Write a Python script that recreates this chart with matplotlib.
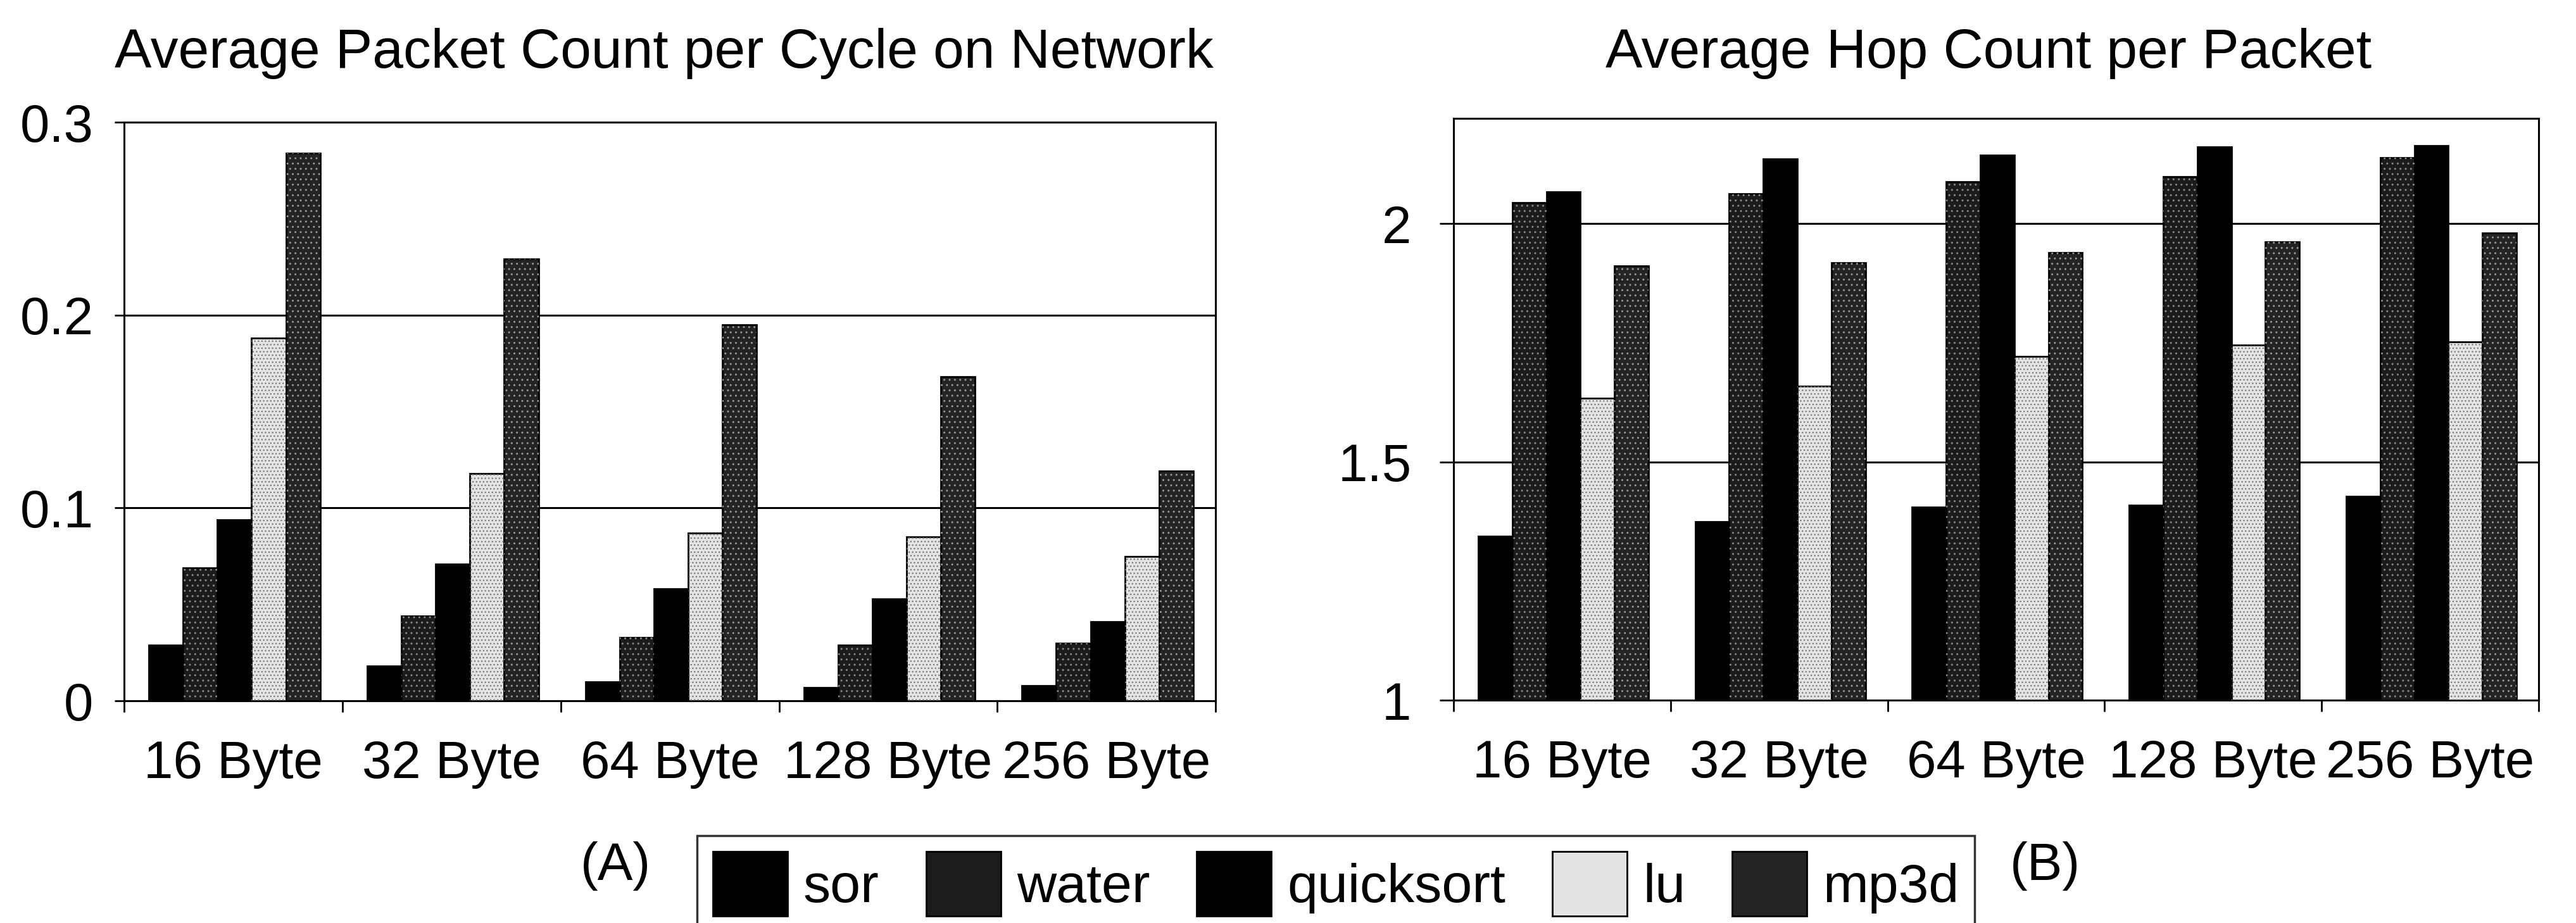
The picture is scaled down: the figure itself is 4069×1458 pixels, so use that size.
import numpy as np
import matplotlib
matplotlib.use("Agg")
import matplotlib.pyplot as plt

plt.rcParams['font.family'] = ['Liberation Sans', 'DejaVu Sans']

# data
sizes = ["16 Byte", "32 Byte", "64 Byte", "128 Byte", "256 Byte"]
apps = ["sor", "water", "quicksort", "lu", "mp3d"]

# (A) average packet count per cycle on network
pkt_sor = [0.029, 0.018, 0.010, 0.007, 0.008]
pkt_water = [0.069, 0.044, 0.033, 0.029, 0.030]
pkt_quick = [0.094, 0.071, 0.058, 0.053, 0.041]
pkt_lu = [0.188, 0.118, 0.087, 0.085, 0.075]
pkt_mp3d = [0.284, 0.229, 0.195, 0.168, 0.119]

# (B) average hop count per packet
hop_sor = [1.344, 1.374, 1.405, 1.409, 1.428]
hop_water = [2.044, 2.062, 2.088, 2.098, 2.138]
hop_quick = [2.067, 2.135, 2.143, 2.161, 2.164]
hop_lu = [1.634, 1.659, 1.721, 1.745, 1.752]
hop_mp3d = [1.911, 1.918, 1.939, 1.962, 1.980]

face = ["#000000", "#1c1c1c", "#000000", "#e4e4e4", "#242424"]
hatch = [None, "..", None, "...", ".."]
hatch_col = [None, "#8a8a8a", None, "#7a7a7a", "#9a9a9a"]

FS = 60
fig = plt.figure(figsize=(40.69, 14.58), dpi=100)
ax1 = fig.add_axes([0.0482, 0.2407, 0.4237, 0.6269])
ax2 = fig.add_axes([0.5643, 0.2414, 0.4212, 0.6300])

x = np.arange(len(sizes))
bw = 0.157
start = -0.5 + 0.113


def draw(ax, series, base):
    handles = []
    for k, vals in enumerate(series):
        pos = x + start + bw * (k + 0.5)
        h = ax.bar(pos, np.array(vals) - base, bw, bottom=base, color=face[k],
                   edgecolor="black", linewidth=2, zorder=3, label=apps[k])
        if hatch[k]:
            # speckle texture laid over the solid bar
            ax.bar(pos, np.array(vals) - base, bw, bottom=base, fill=False,
                   hatch=hatch[k], edgecolor=hatch_col[k], linewidth=0, zorder=4)
        handles.append(h)
    ax.set_xlim(-0.5, len(sizes) - 0.5)
    ax.set_xticks(np.arange(-0.5, len(sizes)))
    ax.set_xticklabels([])
    ax.set_xticks(x, minor=True)
    ax.set_xticklabels(sizes, minor=True)
    ax.tick_params(axis="x", which="major", length=13, width=2, direction="out")
    ax.tick_params(axis="x", which="minor", length=0, pad=44, labelsize=FS)
    ax.yaxis.grid(True, color="black", linewidth=2.2, zorder=1)
    for s in ax.spines.values():
        s.set_linewidth(2.2)
    return handles


handles = draw(ax1, [pkt_sor, pkt_water, pkt_quick, pkt_lu, pkt_mp3d], 0)
ax1.set_ylim(0, 0.3)
ax1.set_yticks([0, 0.1, 0.2, 0.3])
ax1.set_yticklabels(["0", "0.1", "0.2", "0.3"])
ax1.tick_params(axis="y", length=11, width=2, pad=24, labelsize=FS)

draw(ax2, [hop_sor, hop_water, hop_quick, hop_lu, hop_mp3d], 1)
ax2.set_ylim(1, 2.22)
ax2.set_yticks([1, 1.5, 2])
ax2.set_yticklabels(["1", "1.5", "2"])
ax2.tick_params(axis="y", length=16, width=2, pad=32, labelsize=FS)

fig.text(0.2578, 0.9266, "Average Packet Count per Cycle on Network",
         ha="center", va="baseline", fontsize=63)
fig.text(0.772, 0.9266, "Average Hop Count per Packet",
         ha="center", va="baseline", fontsize=63)

fig.text(0.2389, 0.0617, "(A)", ha="center", va="center", fontsize=FS)
fig.text(0.794, 0.0617, "(B)", ha="center", va="center", fontsize=FS)

leg = fig.legend(handles, apps, loc="upper left", bbox_to_anchor=(0.2706, 0.0947),
                 ncol=5, fontsize=62, frameon=True, fancybox=False,
                 borderpad=0.29, borderaxespad=0, columnspacing=0.86,
                 handletextpad=0.29, handlelength=1.37, handleheight=1.45)
leg.get_frame().set_edgecolor("black")
leg.get_frame().set_linewidth(2.5)

fig.savefig("out.png", dpi=100)
